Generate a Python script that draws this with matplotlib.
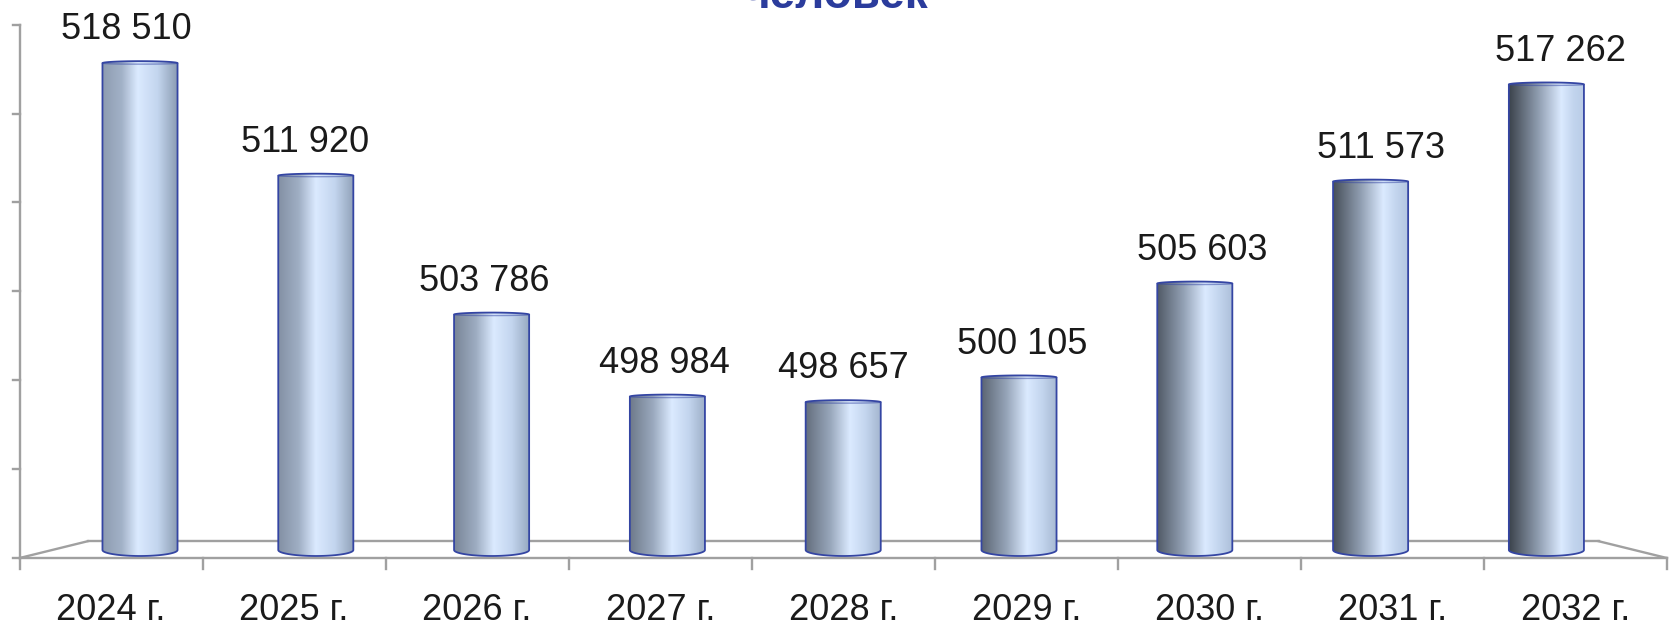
import numpy as np
import matplotlib.pyplot as plt
from matplotlib.colors import LinearSegmentedColormap, to_rgb
from matplotlib.path import Path
from matplotlib.patches import PathPatch

# data
years = ['2024 г.', '2025 г.', '2026 г.', '2027 г.', '2028 г.',
         '2029 г.', '2030 г.', '2031 г.', '2032 г.']
values = [518510, 511920, 503786, 498984, 498657, 500105, 505603, 511573, 517262]
labels = ['518 510', '511 920', '503 786', '498 984', '498 657',
          '500 105', '505 603', '511 573', '517 262']
y_min, y_max, y_step = 490000, 520000, 5000
title = 'человек'

plt.rcParams['font.family'] = ['Liberation Sans', 'DejaVu Sans']

fig = plt.figure(figsize=(16.71, 6.28), dpi=100)
ax = fig.add_axes([0, 0, 1, 1])
ax.axis('off')

# one pixel in data units
upx = 58.56
n = len(values)
cx, vy = (n - 1) / 2, 501415


def proj(x, v, s):
    # simple perspective about the vanishing point
    return cx + (x - cx) * s, vy + (v - vy) * s


FRONT, BACK = 1.041, 0.955
grey = '#a0a0a0'

# floor
fx0, fy = proj(-0.5, y_min, FRONT)
fx1, _ = proj(n - 0.5, y_min, FRONT)
bx0, by = proj(-0.5, y_min, BACK)
bx1, _ = proj(n - 0.5, y_min, BACK)
ax.plot([fx0, fx1], [fy, fy], color=grey, lw=1.7, zorder=1)
ax.plot([bx0, bx1], [by, by], color=grey, lw=1.7, zorder=1)
ax.plot([fx0, bx0], [fy, by], color=grey, lw=1.7, zorder=1)
ax.plot([fx1, bx1], [fy, by], color=grey, lw=1.7, zorder=1)

# x ticks on the front edge
for b in np.arange(-0.5, n, 1.0):
    tx, _ = proj(b, y_min, FRONT)
    ax.plot([tx, tx], [fy, fy - 11 * upx], color=grey, lw=1.7, zorder=1)

# y axis with ticks, no labels
_, top = proj(-0.5, y_max, FRONT)
ax.plot([fx0, fx0], [fy, top], color=grey, lw=1.7, zorder=1)
for v in range(y_min, y_max + 1, y_step):
    _, ty = proj(-0.5, v, FRONT)
    ax.plot([fx0 - 7 / 175.8, fx0], [ty, ty], color=grey, lw=1.7, zorder=1)


def mix(a, b, f):
    a, b = np.array(to_rgb(a)), np.array(to_rgb(b))
    return tuple(a + (b - a) * f)


# cylinders
w = 0.427
hb = 6 * upx
ht = 2.0 * upx
edge = '#3445a3'
theta = np.linspace(0, np.pi, 40)
grad = np.linspace(0, 1, 256).reshape(1, -1)
for i, v in enumerate(values):
    f = i / (n - 1)
    left = mix('#8d9bb0', '#3c434c', f)
    right = mix('#8a9bb2', '#b8cbe6', f)
    peak = 0.47 + 0.22 * f
    cm = LinearSegmentedColormap.from_list('c%d' % i, [
        (0, left), (peak * 0.55, mix(left, '#a9b9cf', 0.75)),
        (peak, '#dbeaff'), ((peak + 1) / 2, '#c3d5ee'), (1, right)])

    x0, x1 = i - w / 2, i + w / 2
    yb, yt = y_min, v
    xs = x0 + w * (1 - np.cos(theta)) / 2
    # body outline: across the top, down the right, back under the bottom
    body = np.vstack([np.column_stack([xs, yt + ht * np.sin(theta)]),
                      [[x1, yb]],
                      np.column_stack([xs[::-1], yb - hb * np.sin(theta)]),
                      [[x0, yt]]])
    patch = PathPatch(Path(body, closed=True), fc='none', ec=edge,
                      lw=1.3, zorder=4)
    ax.add_patch(patch)
    im = ax.imshow(grad, cmap=cm, extent=[x0, x1, yb - hb, yt + ht],
                   aspect='auto', interpolation='bilinear', zorder=3)
    im.set_clip_path(patch)
    # top rim
    ax.plot(xs, yt - 0.5 * ht * np.sin(theta), color=edge, lw=1.0,
            alpha=0.5, zorder=5)

    lx, _ = proj(i, v, 1.02)
    ax.text(lx, v + 1400, labels[i], ha='center', va='baseline',
            fontsize=26, color='#1a1a1a', zorder=6)

for i, yr in enumerate(years):
    lx, _ = proj(i, y_min, FRONT)
    ax.text(lx, y_min - 70 * upx, yr, ha='center', va='baseline',
            fontsize=26, color='#1a1a1a')

fig.text(0.5, 1 - 8 / 628, title, ha='center', va='baseline',
         fontsize=33, fontweight='bold', color='#2b3c9c')

ax.set_xlim(-140 / 175.8, (1671 - 140) / 175.8)
ax.set_ylim(y_min - 78 * upx, y_min + 550 * upx)

fig.savefig('out.png', dpi=100)
